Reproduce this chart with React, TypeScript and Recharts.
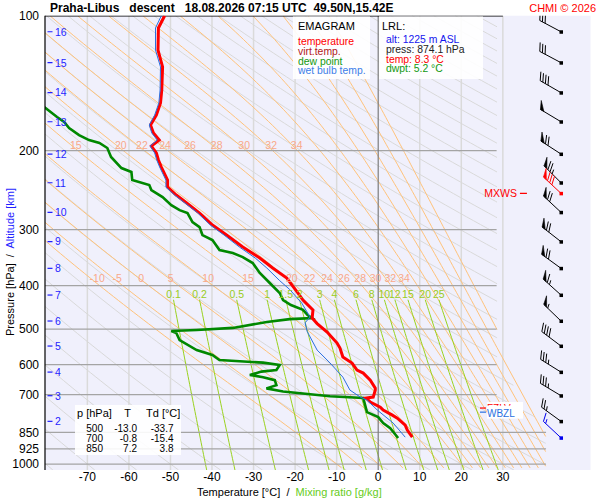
import React from "react";
import { ComposedChart, Line, Scatter, XAxis, YAxis, CartesianGrid } from "recharts";

const FONT = "'Liberation Sans', Arial, Helvetica, sans-serif";

// axes
const T_MIN = -80.2;
const T_MAX = 51.1;
const P_TOP = 100;
const P_BOTTOM = 1031;
const TEMP_TICKS = [-70, -60, -50, -40, -30, -20, -10, 0, 10, 20, 30];
const PRESSURE_TICKS = [100, 200, 300, 400, 500, 600, 700, 850, 925, 1000];
const SHORT_LEVELS = [200, 300, 400, 500, 600, 700];
const LONG_LEVELS = [850, 925, 1000];

// sounding, [p hPa, T °C]
const TEMPERATURE: [number, number][] = [
  [100, -51.4], [106.5, -52.9], [119.3, -53.0], [130.1, -51.9], [146.5, -52.1], [156.6, -52.4],
  [166.6, -53.4], [175.3, -54.8], [182.6, -54.1], [189.4, -52.7], [195.3, -54.6], [202.4, -53.4],
  [209.8, -52.9], [217.6, -52.2], [232.6, -50.7], [241.1, -50.7], [251.2, -48.6], [261.7, -46.1],
  [275.5, -43.0], [293.0, -39.9], [308.5, -36.5], [328.1, -32.6], [347.1, -28.5], [365.4, -25.4],
  [384.7, -22.0], [415.5, -19.3], [430.7, -18.1], [453.4, -15.7], [472.5, -15.9], [486, -14.7],
  [507.7, -12.3], [537.2, -9.9], [551.2, -9.2], [577.3, -8.5], [595.4, -6.3], [617.2, -5.1],
  [626.8, -3.6], [649.7, -1.9], [677.0, -0.7], [684.0, -0.7], [709.0, -1.2], [712.8, -2.9],
  [727.5, -1.9], [746.4, 0.5], [758.0, 1.2], [777.7, 3.4], [789.8, 4.6], [818.7, 6.5],
  [840.1, 7.0], [870.9, 8.2],
];
const DEW_POINT: [number, number][] = [
  [150, -84], [159.8, -80.4], [168.3, -77.3], [172.6, -75.6], [178, -74.4], [184.6, -72.0],
  [189.4, -69.6], [192.3, -67.1], [197.3, -65.2], [206.6, -64.3], [218.7, -61.8], [223.2, -59.4],
  [232.6, -59.2], [238.6, -55.1], [244.9, -54.6], [253.8, -51.9], [264.5, -49.8], [271.4, -47.8],
  [275.5, -45.9], [288.6, -44.7], [296.1, -43.0], [308.5, -42.3], [316.5, -39.9], [333.3, -38.2],
  [338.4, -35.0], [345.4, -32.6], [356.2, -30.2], [374.9, -28.5], [394.7, -26.1], [415.5, -23.7],
  [430.7, -22.9], [442, -21.0], [453, -18.1], [465, -17.0], [472.5, -15.9], [475, -21.3],
  [482, -26.8], [497, -35.0], [502.5, -43.7], [505, -49.8], [510, -48.6], [529, -47.8],
  [557, -43.7], [571, -39.9], [586, -38.2], [594, -27.7], [601, -23.7], [617, -24.5],
  [622, -28.1], [633, -30.9], [640, -27.7], [650, -24.9], [667, -24.5], [678, -26.9],
  [689, -22.9], [706, -11.6], [712, -3.6], [766, -2.7], [786, 0.0], [810, 1.2],
  [832, 2.9], [875, 4.8],
];
const WET_BULB: [number, number][] = [
  [100, -52.2], [106.5, -53.6], [119.3, -53.6], [130.1, -52.4], [146.5, -52.5], [156.6, -52.8],
  [166.6, -53.8], [175.3, -55.1], [182.6, -54.5], [189.4, -53.2], [195.3, -54.9], [202.4, -53.8],
  [209.8, -53.3], [217.6, -52.6], [232.6, -51.1], [241.1, -51.1], [251.2, -49.0], [261.7, -46.5],
  [275.5, -43.4], [293, -40.4], [308.5, -37.1], [328.1, -33.4], [347.1, -29.6], [365.4, -26.8],
  [390, -23.7], [408, -21.3], [437.5, -18.4], [470, -16.4], [484, -17.6], [506, -17.1],
  [557, -14.7], [595, -11.6], [640, -8.5], [684, -6.8], [709, -4.3], [720, -2.7],
  [758, -0.2], [810, 3.6], [871, 6.5],
];

// altitude marks and winds at each km
const ALT_KM = [16, 15, 14, 13, 12, 11, 10, 9, 8, 7, 6, 5, 4, 3, 2];
const ALT_P = [108.6, 127.3, 148.5, 172.4, 203.5, 235.8, 274.5, 319.2, 366.0, 419.8, 479.7, 545.5, 623.6, 704.0, 803.0];
const WIND_DIR = [298, 298, 300, 301, 303, 315, 313, 308, 306, 312, 314, 307, 302, 301, 306];
const WIND_SPD = [30, 30, 40, 50, 70, 75, 70, 70, 70, 65, 55, 40, 35, 35, 25];
const MXWS = { p: 249, dir: 313, spd: 80 };
const LRL_WIND = { p: 874, dir: 313, spd: 15 };
const FZLV_P = 750;
const WBZL_P = 766;

// diagram families
const DRY_THETA = Array.from({ length: 39 }, (_, i) => -80 + i * 10);
const MOIST_THW = [-10, -5, 0, 5, 10, 15, 20, 22, 24, 26, 28, 30, 32, 34, 36, 38, 40, 42, 44, 46];
const MOIST_LABELS_LOW = [-10, -5, 0, 5, 10, 15, 20, 22, 24, 26, 28, 30, 32, 34];
const MOIST_LABELS_HIGH = [15, 20, 22, 24, 26, 28, 30, 32, 34];
const MIX_RATIO = [0.1, 0.2, 0.5, 1, 1.5, 2, 3, 4, 6, 8, 10, 12, 15, 20, 25];

const TABLE_P = ["500", "700", "850"];
const TABLE_T = ["-13.0", "-0.8", "7.2"];
const TABLE_TD = ["-33.7", "-15.4", "3.8"];

type Pt = { t: number; p: number };

const toPts = (rows: [number, number][]): Pt[] => rows.map(([p, t]) => ({ t, p }));

function tLimit(p: number) {
  if (p <= 590) return 28.6;
  if (p >= 850) return 40.3;
  return 28.6 + (40.3 - 28.6) * Math.log(p / 590) / Math.log(850 / 590);
}

function clipRight(pts: Pt[]): Pt[] {
  const out: Pt[] = [];
  for (let i = 0; i < pts.length; i++) {
    const a = pts[i];
    const fa = a.t - tLimit(a.p);
    if (i > 0) {
      const b = pts[i - 1];
      const fb = b.t - tLimit(b.p);
      if (fa <= 0 !== fb <= 0) {
        const k = fb / (fb - fa);
        out.push({
          t: b.t + (a.t - b.t) * k,
          p: Math.exp(Math.log(b.p) + (Math.log(a.p) - Math.log(b.p)) * k),
        });
      }
    }
    if (fa <= 0) out.push(a);
  }
  return out;
}

function pressureSteps(from: number, to: number, step = 0.02) {
  const out: number[] = [];
  for (let lp = Math.log(from); lp > Math.log(to); lp -= step) out.push(Math.exp(lp));
  out.push(to);
  return out;
}

const dryCurve = (theta: number) =>
  clipRight(pressureSteps(P_BOTTOM, P_TOP).map((p) => ({ p, t: (theta + 273.15) * Math.pow(p / 1000, 0.2857) - 273.15 })));

function moistCurve(thw: number): Pt[] {
  const Rd = 287.04, cp = 1005.7, Lv = 2.501e6, eps = 0.622;
  const slope = (T: number, p: number) => {
    const es = 6.112 * Math.exp((17.67 * (T - 273.15)) / (T - 29.65));
    const rs = (eps * es) / (p - es);
    return (Rd * T + Lv * rs) / (cp + (Lv * Lv * rs * eps) / (Rd * T * T));
  };
  const run = (pEnd: number, h: number) => {
    const pts: Pt[] = [];
    let T = thw + 273.15;
    let lp = Math.log(1000);
    let n = 0;
    while (h > 0 ? lp > Math.log(pEnd) : lp < Math.log(pEnd)) {
      const k1 = slope(T, Math.exp(lp));
      const k2 = slope(T - h * k1, Math.exp(lp - h));
      T -= (h * (k1 + k2)) / 2;
      lp -= h;
      n++;
      if (n % 4 === 0) pts.push({ t: T - 273.15, p: Math.exp(lp) });
    }
    return pts;
  };
  const down = run(P_BOTTOM, -0.005).reverse();
  const up = run(P_TOP, 0.005);
  return clipRight([...down, { t: thw, p: 1000 }, ...up]);
}

const mixT = (w: number, p: number) => {
  const x = Math.log((w * p) / (622 + w) / 6.112);
  return (243.5 * x) / (17.67 - x);
};
const mixCurve = (w: number) => clipRight(pressureSteps(P_BOTTOM, 430).map((p) => ({ p, t: mixT(w, p) })));

function tAt(curve: Pt[], p: number) {
  for (let i = 1; i < curve.length; i++) {
    const a = curve[i - 1], b = curve[i];
    if ((a.p - p) * (b.p - p) <= 0) {
      const k = (Math.log(p) - Math.log(a.p)) / (Math.log(b.p) - Math.log(a.p) || 1);
      return a.t + (b.t - a.t) * k;
    }
  }
  return NaN;
}

const dryLines = DRY_THETA.map(dryCurve);
const moistLines = MOIST_THW.map(moistCurve);
const mixLines = MIX_RATIO.map(mixCurve);

const moistLabelData = [
  ...MOIST_LABELS_LOW.map((v) => ({ t: tAt(moistLines[MOIST_THW.indexOf(v)], 386), p: 386, text: String(v) })),
  ...MOIST_LABELS_HIGH.map((v) => ({ t: tAt(moistLines[MOIST_THW.indexOf(v)], 194.5), p: 194.5, text: String(v) })),
];
const mixLabelData = MIX_RATIO.map((w) => ({ t: mixT(w, 430), p: 430, text: String(w) }));
const altData = ALT_KM.map((km, i) => ({ t: T_MIN, p: ALT_P[i], text: String(km) }));

const BARB_T = 44.0;
const barbData = [
  ...ALT_P.map((p, i) => ({ t: BARB_T, p, dir: WIND_DIR[i], spd: WIND_SPD[i], color: "#000" })),
  { t: BARB_T, p: MXWS.p, dir: MXWS.dir, spd: MXWS.spd, color: "#ff0000" },
  { t: BARB_T, p: LRL_WIND.p, dir: LRL_WIND.dir, spd: LRL_WIND.spd, color: "#0000ee" },
];

const seg = (t1: number, p1: number, t2: number, p2: number): Pt[] => [
  { t: t1, p: p1 },
  { t: t2, p: p2 },
];

function WindBarb(props: any) {
  const { cx, cy, payload } = props;
  const { dir, spd, color } = payload;
  const r = (dir * Math.PI) / 180;
  const ux = Math.sin(r), uy = -Math.cos(r);
  const nx = -uy, ny = ux;
  const tilt = 0.45;
  const bx = nx * Math.cos(tilt) + ux * Math.sin(tilt);
  const by = ny * Math.cos(tilt) + uy * Math.sin(tilt);
  const L = 24, B = 9;
  const at = (d: number) => [cx + ux * d, cy + uy * d];
  const parts: React.ReactNode[] = [];
  let s = spd;
  let d = L;
  let k = 0;
  while (s >= 50) {
    const [x1, y1] = at(d);
    const [x2, y2] = at(d - 4);
    parts.push(<polygon key={k++} points={`${x1},${y1} ${x1 + bx * B},${y1 + by * B} ${x2},${y2}`} fill={color} stroke={color} strokeWidth={0.6} />);
    d -= 5.5;
    s -= 50;
  }
  while (s >= 10) {
    const [x1, y1] = at(d);
    parts.push(<line key={k++} x1={x1} y1={y1} x2={x1 + bx * B} y2={y1 + by * B} stroke={color} strokeWidth={1} />);
    d -= 3;
    s -= 10;
  }
  if (s >= 5) {
    if (d === L) d -= 3;
    const [x1, y1] = at(d);
    parts.push(<line key={k++} x1={x1} y1={y1} x2={x1 + (bx * B) / 2} y2={y1 + (by * B) / 2} stroke={color} strokeWidth={1} />);
  }
  const [tx, ty] = at(L);
  return (
    <g>
      <line x1={cx} y1={cy} x2={tx} y2={ty} stroke={color} strokeWidth={1} />
      {parts}
      <rect x={cx - 1.5} y={cy - 1.5} width={3.5} height={3.5} fill={color} />
    </g>
  );
}

const MxwsLabel = (props: any) => (
  <g>
    <line x1={props.cx - 7} x2={props.cx} y1={props.cy} y2={props.cy} stroke="#ff0000" strokeWidth={1.2} />
    <text x={props.cx - 10} y={props.cy + 4} fontSize={10.5} fontFamily={FONT} fill="#ff0000" textAnchor="end">MXWS</text>
  </g>
);

const LevelLabel = (props: any) => {
  const { cx, cy, payload } = props;
  return (
    <g>
      <line x1={cx} x2={cx + 6} y1={cy} y2={cy} stroke={payload.color} strokeWidth={1.2} />
      <rect x={cx + 7} y={cy - payload.up} width={36} height={13} fill="#ffffff" />
      <text x={cx + 7} y={cy + payload.base} fontSize={10} fontFamily={FONT} fill={payload.color}>{payload.text}</text>
    </g>
  );
};

const AltLabel = (props: any) => (
  <g>
    <line x1={props.cx + 2.5} x2={props.cx + 7.5} y1={props.cy} y2={props.cy} stroke="#1f1fff" strokeWidth={1.2} />
    <text x={props.cx + 10} y={props.cy + 3.8} fontSize={10.5} fontFamily={FONT} fill="#1f1fff">{props.payload.text}</text>
  </g>
);

const MoistLabel = (props: any) => (
  <text x={props.cx - 1.5} y={props.cy + 3.7} fontSize={10.5} fontFamily={FONT} fill="#f9a88a">{props.payload.text}</text>
);

const MixLabel = (props: any) => (
  <text x={props.cx} y={props.cy - 2} fontSize={10.5} fontFamily={FONT} fill="#99cc22" textAnchor="middle">{props.payload.text}</text>
);

const line = (key: string, data: Pt[], stroke: string, width = 1) => (
  <Line
    key={key}
    data={data}
    dataKey="p"
    stroke={stroke}
    strokeWidth={width}
    dot={false}
    activeDot={false}
    legendType="none"
    isAnimationActive={false}
  />
);

export default function App() {
  const text = { fontFamily: FONT };
  return (
    <div style={{ position: "absolute", left: 0, top: 0, width: 600, height: 500, background: "#fff" }}>
      <ComposedChart width={600} height={500} margin={{ top: 15.7, right: 9.5, bottom: 0, left: 0 }}>
        <CartesianGrid horizontal={false} vertical={false} fill="#f0f0fc" stroke="none" />
        <XAxis
          type="number"
          dataKey="t"
          domain={[T_MIN, T_MAX]}
          ticks={TEMP_TICKS}
          interval={0}
          allowDataOverflow
          axisLine={false}
          tickLine={false}
          tickSize={1}
          tickMargin={1}
          height={30}
          tick={{ fill: "#000", fontSize: 12, fontFamily: FONT }}
        />
        <YAxis
          type="number"
          dataKey="p"
          scale="log"
          domain={[P_TOP, P_BOTTOM]}
          reversed
          ticks={PRESSURE_TICKS}
          interval={0}
          allowDataOverflow
          width={45}
          axisLine={{ stroke: "#000", strokeWidth: 1.2 }}
          tickLine={false}
          tickSize={4}
          tickMargin={2}
          tick={{ fill: "#000", fontSize: 12, fontFamily: FONT }}
        />
        {TEMP_TICKS.filter((t) => t !== 0).map((t) => line(`iso${t}`, seg(t, P_TOP, t, P_BOTTOM), "#dadada", 1.5))}
        {dryLines.map((d, i) => line(`dry${i}`, d, "#d9d9d9", 1))}
        {moistLines.map((d, i) => line(`moist${i}`, d, "#ffc27a", 1))}
        {mixLines.map((d, i) => line(`mix${i}`, d, "#9ad21e", 1))}
        {SHORT_LEVELS.map((p) => line(`h${p}`, seg(T_MIN, p, 28.5, p), "#a4a4a4", 1.3))}
        {LONG_LEVELS.map((p) => line(`h${p}`, seg(T_MIN, p, 40.4, p), "#a4a4a4", 1.3))}
        {line("iso0", seg(0, P_TOP, 0, P_BOTTOM), "#7c7c7c", 1.2)}
        {line("top", seg(T_MIN, P_TOP, 30, P_TOP), "#000", 1.5)}
        {line("dew", toPts(DEW_POINT), "#008800", 2.6)}
        {line("temp", toPts(TEMPERATURE), "#ff0000", 3)}
        {line("wet", toPts(WET_BULB), "#2a6fe0", 1)}
        <Scatter data={moistLabelData} shape={MoistLabel} isAnimationActive={false} legendType="none" />
        <Scatter data={mixLabelData} shape={MixLabel} isAnimationActive={false} legendType="none" />
        <Scatter data={altData} shape={AltLabel} isAnimationActive={false} legendType="none" />
        <Scatter data={barbData} shape={WindBarb} isAnimationActive={false} legendType="none" />
        <Scatter data={[{ t: 35.8, p: MXWS.p }]} shape={MxwsLabel} isAnimationActive={false} legendType="none" />
        <Scatter
          data={[
            { t: 24.5, p: FZLV_P, text: "FZLV", color: "#ff0000", up: 6, base: 4 },
            { t: 24.5, p: WBZL_P, text: "WBZL", color: "#2a6fe0", up: 6.5, base: 5 },
          ]}
          shape={LevelLabel}
          isAnimationActive={false}
          legendType="none"
        />
      </ComposedChart>
      <svg width={600} height={500} style={{ position: "absolute", left: 0, top: 0, pointerEvents: "none" }}>
        <g style={text}>
          <text x={50} y={11.5} fontSize={12} fontWeight="bold" style={{ whiteSpace: "pre" }}>
            {"Praha-Libus   descent   18.08.2026 07:15 UTC  49.50N,15.42E"}
          </text>
          <text x={596} y={11.5} fontSize={11} fill="#ff0000" textAnchor="end">CHMI © 2026</text>

          <rect x={293} y={16.5} width={77} height={62.5} fill="#fff" fillOpacity={0.9} />
          <text x={298} y={30} fontSize={11}>EMAGRAM</text>
          <text x={298} y={45} fontSize={10.4} fill="#ff0000">temperature</text>
          <text x={298} y={55} fontSize={10.4} fill="#b02020">virt.temp.</text>
          <text x={298} y={64.5} fontSize={10.4} fill="#119911">dew point</text>
          <text x={298} y={74.3} fontSize={10.4} fill="#3b7de9">wet bulb temp.</text>

          <rect x={379} y={16.5} width={104} height={62.5} fill="#fff" fillOpacity={0.9} />
          <text x={382} y={29.5} fontSize={11}>LRL:</text>
          <text x={386} y={42.5} fontSize={10.4} fill="#1515ee">alt: 1225 m ASL</text>
          <text x={386} y={52.5} fontSize={10.4} fill="#222">press: 874.1 hPa</text>
          <text x={386} y={62.5} fontSize={10.4} fill="#ff0000">temp: 8.3 °C</text>
          <text x={386} y={72.3} fontSize={10.4} fill="#119911">dwpt: 5.2 °C</text>

          <rect x={75} y={405} width={106} height={50} fill="#fff" fillOpacity={0.9} />
          <text x={77} y={416.5} fontSize={11}>p [hPa]</text>
          <text x={127.5} y={416.5} fontSize={11} textAnchor="middle">T</text>
          <text x={146} y={416.5} fontSize={11}>Td [°C]</text>
          {TABLE_P.map((p, i) => (
            <g key={p} fontSize={10}>
              <text x={103} y={432 + i * 10} textAnchor="end">{p}</text>
              <text x={137} y={432 + i * 10} textAnchor="end">{TABLE_T[i]}</text>
              <text x={173.5} y={432 + i * 10} textAnchor="end">{TABLE_TD[i]}</text>
            </g>
          ))}

          <text x={197} y={496} fontSize={11} style={{ whiteSpace: "pre" }}>
            <tspan>{"Temperature [°C]  /  "}</tspan>
            <tspan fill="#66cc22">Mixing ratio [g/kg]</tspan>
          </text>
          <text transform="translate(14,336) rotate(-90)" fontSize={11} style={{ whiteSpace: "pre" }}>
            <tspan>{"Pressure [hPa]  /  "}</tspan>
            <tspan fill="#1f1fff">Altitude [km]</tspan>
          </text>
        </g>
      </svg>
    </div>
  );
}
